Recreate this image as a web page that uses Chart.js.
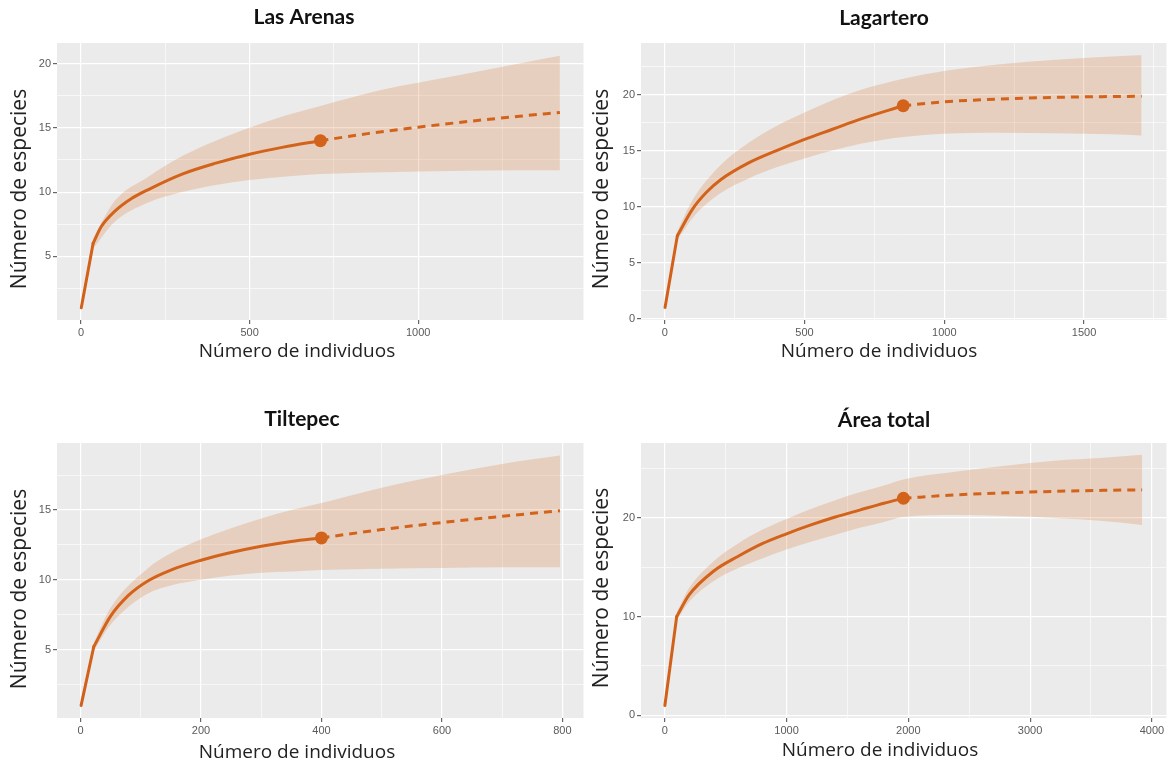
<!DOCTYPE html>
<html><head><meta charset="utf-8">
<script src="https://cdn.jsdelivr.net/npm/chart.js@4.4.1/dist/chart.umd.min.js"></script>
<style>
html,body{margin:0;padding:0;background:#fff;}
body{width:1173px;height:765px;position:relative;overflow:hidden;}
canvas{position:absolute;}
</style></head><body>
<canvas id="c1" width="590" height="380" style="left:0px;top:0px"></canvas>
<canvas id="c2" width="583" height="380" style="left:590px;top:0px"></canvas>
<canvas id="c3" width="590" height="385" style="left:0px;top:380px"></canvas>
<canvas id="c4" width="583" height="385" style="left:590px;top:380px"></canvas>
<script>
// ---------- Text ----------
const panelTitles = ["Las Arenas", "Lagartero", "Tiltepec", "Área total"];
const xAxisTitle = "Número de individuos";
const yAxisTitle = "Número de especies";

// ---------- Las Arenas ----------
const laObsX = [1, 36, 60, 100, 150, 200, 300, 400, 500, 600, 710];
const laObsY = [1, 6.0, 7.3, 8.5, 9.5, 10.2, 11.4, 12.25, 12.95, 13.5, 14.0];
const laExtX = [710, 850, 1000, 1150, 1300, 1420];
const laExtY = [14.0, 14.55, 15.05, 15.5, 15.9, 16.2];
const laCiX  = [1, 36, 100, 200, 300, 400, 500, 600, 710, 900, 1100, 1300, 1420];
const laCiLo = [1, 5.6, 7.7, 9.2, 10.0, 10.55, 10.95, 11.2, 11.4, 11.55, 11.65, 11.7, 11.7];
const laCiHi = [1, 6.4, 9.3, 11.2, 12.8, 14.0, 15.0, 15.9, 16.7, 18.0, 19.0, 20.0, 20.6];
const laXTicks = [0, 500, 1000];
const laYTicks = [5, 10, 15, 20];

// ---------- Lagartero ----------
const lgObsX = [1, 45, 100, 150, 200, 300, 400, 500, 600, 700, 853];
const lgObsY = [1, 7.4, 9.8, 11.3, 12.4, 13.9, 15.0, 16.0, 16.9, 17.8, 19.0];
const lgExtX = [853, 1000, 1200, 1400, 1600, 1706];
const lgExtY = [19.0, 19.35, 19.6, 19.75, 19.82, 19.85];
const lgCiX  = [1, 45, 100, 200, 300, 400, 500, 600, 700, 853, 1000, 1200, 1400, 1600, 1706];
const lgCiLo = [1, 7.0, 9.0, 11.2, 12.5, 13.5, 14.3, 15.0, 15.6, 16.2, 16.5, 16.6, 16.55, 16.45, 16.35];
const lgCiHi = [1, 7.8, 10.6, 13.7, 15.7, 17.2, 18.4, 19.5, 20.4, 21.4, 22.1, 22.7, 23.1, 23.4, 23.5];
const lgXTicks = [0, 500, 1000, 1500];
const lgYTicks = [0, 5, 10, 15, 20];

// ---------- Tiltepec ----------
const ttObsX = [1, 22, 50, 80, 111, 150, 200, 250, 300, 350, 400];
const ttObsY = [1, 5.2, 7.4, 8.9, 9.9, 10.7, 11.4, 11.95, 12.4, 12.75, 13.0];
const ttExtX = [400, 500, 600, 700, 796];
const ttExtY = [13.0, 13.6, 14.1, 14.55, 14.95];
const ttCiX  = [1, 22, 50, 111, 150, 200, 250, 300, 350, 400, 500, 600, 700, 796];
const ttCiLo = [1, 4.9, 6.8, 9.0, 9.6, 10.0, 10.3, 10.5, 10.6, 10.7, 10.8, 10.85, 10.9, 10.9];
const ttCiHi = [1, 5.5, 8.0, 10.8, 11.9, 12.9, 13.7, 14.4, 15.0, 15.5, 16.6, 17.5, 18.3, 18.9];
const ttXTicks = [0, 200, 400, 600, 800];
const ttYTicks = [5, 10, 15];

// ---------- Área total ----------
const atObsX = [1, 98, 200, 400, 600, 800, 1000, 1200, 1400, 1600, 1800, 1960];
const atObsY = [1, 10.0, 12.2, 14.6, 16.1, 17.4, 18.4, 19.3, 20.1, 20.8, 21.5, 22.0];
const atExtX = [1960, 2400, 2800, 3200, 3600, 3920];
const atExtY = [22.0, 22.35, 22.55, 22.7, 22.8, 22.85];
const atCiX  = [1, 98, 200, 400, 600, 800, 1000, 1200, 1400, 1600, 1800, 1960, 2400, 2800, 3200, 3600, 3920];
const atCiLo = [1, 9.6, 11.5, 13.6, 14.9, 15.9, 16.8, 17.6, 18.3, 19.0, 19.6, 20.1, 20.3, 20.2, 20.0, 19.7, 19.3];
const atCiHi = [1, 10.4, 12.9, 15.6, 17.4, 18.8, 19.9, 20.9, 21.8, 22.6, 23.3, 23.9, 24.7, 25.3, 25.8, 26.1, 26.4];
const atXTicks = [0, 1000, 2000, 3000, 4000];
const atYTicks = [0, 10, 20];

// ---------- Styling ----------
const LINE = '#D2601A';
const RIBBON = 'rgba(213,110,30,0.22)';
const PANEL_BG = '#EBEBEB';
const TICK_FONT = {family: "'Liberation Sans', Arial, sans-serif", size: 11};
const TICK_COLOR = '#5a5a5a';

const panelDecor = {
  id: 'panelDecor',
  beforeDraw(chart) {
    const {ctx, chartArea: a} = chart;
    ctx.save();
    ctx.fillStyle = PANEL_BG;
    ctx.fillRect(a.left, a.top, a.right - a.left, a.bottom - a.top);
    ctx.restore();
  },
  afterDraw(chart, args, o) {
    const ctx = chart.ctx;
    ctx.save();
    ctx.fillStyle = '#111';
    ctx.textAlign = 'center';
    ctx.textBaseline = 'middle';
    ctx.font = "bold 21px Lato, 'Open Sans', sans-serif";
    ctx.fillText(o.title, o.titlePos[0], o.titlePos[1]);
    ctx.fillStyle = '#222';
    ctx.font = "19px 'Open Sans', 'Noto Sans', sans-serif";
    ctx.fillText(o.xTitle, o.xTitlePos[0], o.xTitlePos[1]);
    ctx.translate(o.yTitlePos[0], o.yTitlePos[1]);
    ctx.rotate(-Math.PI / 2);
    ctx.font = "21px 'Open Sans', 'Noto Sans', sans-serif";
    ctx.fillText(o.yTitle, 0, 0);
    ctx.restore();
  }
};

function withMinor(major) {
  const step = major[1] - major[0];
  const out = [];
  const start = major[0] - step / 2;
  for (let v = start; v <= major[major.length - 1] + step / 2 + 1e-9; v += step / 2) out.push(+v.toFixed(6));
  return out;
}

function axis(min, max, major, fitFn) {
  const isMajor = v => major.some(m => Math.abs(m - v) < 1e-6);
  return {
    type: 'linear', min, max,
    afterBuildTicks: s => { s.ticks = withMinor(major).filter(v => v >= min && v <= max).map(v => ({value: v})); },
    afterFit: fitFn,
    ticks: {
      callback: v => isMajor(v) ? String(v) : '',
      font: TICK_FONT, color: TICK_COLOR, padding: 2, maxRotation: 0, autoSkip: false
    },
    grid: {
      color: '#ffffff',
      lineWidth: c => (c.tick && isMajor(c.tick.value)) ? 1.2 : 0.6,
      tickLength: 4,
      tickColor: c => (c.tick && isMajor(c.tick.value)) ? '#666' : 'rgba(0,0,0,0)'
    },
    border: {display: false}
  };
}

function makeChart(p) {
  const pts = (xs, ys) => xs.map((x, i) => ({x, y: ys[i]}));
  const head = a => a.slice(0, 2);   // first (straight) segment up to the first knot
  const tail = a => a.slice(1);      // smooth part from the first knot on
  const n = p.obsX.length - 1;
  const none = 'rgba(0,0,0,0)';
  new Chart(document.getElementById(p.id), {
    type: 'line',
    data: { datasets: [
      {data: pts(head(p.ciX), head(p.ciLo)), borderWidth: 0, borderColor: none, pointRadius: 0, fill: false, tension: 0},
      {data: pts(head(p.ciX), head(p.ciHi)), borderWidth: 0, borderColor: none, pointRadius: 0, fill: '-1', backgroundColor: RIBBON, tension: 0},
      {data: pts(tail(p.ciX), tail(p.ciLo)), borderWidth: 0, borderColor: none, pointRadius: 0, fill: false, cubicInterpolationMode: 'monotone'},
      {data: pts(tail(p.ciX), tail(p.ciHi)), borderWidth: 0, borderColor: none, pointRadius: 0, fill: '-1', backgroundColor: RIBBON, cubicInterpolationMode: 'monotone'},
      {data: pts(head(p.obsX), head(p.obsY)), borderColor: LINE, borderWidth: 3, pointRadius: 0, fill: false, tension: 0, borderCapStyle: 'round', borderJoinStyle: 'round'},
      {data: pts(tail(p.obsX), tail(p.obsY)), borderColor: LINE, borderWidth: 3, pointRadius: 0, fill: false, cubicInterpolationMode: 'monotone', borderCapStyle: 'round'},
      {data: pts(p.extX, p.extY), borderColor: LINE, borderWidth: 3, borderDash: [8, 6], pointRadius: 0, fill: false, cubicInterpolationMode: 'monotone'},
      {data: [{x: p.obsX[n], y: p.obsY[n]}], showLine: false, pointRadius: 6.5, pointBackgroundColor: LINE, pointBorderWidth: 0, borderColor: LINE}
    ]},
    options: {
      responsive: false, animation: false, events: [],
      layout: {padding: {left: 0, right: p.padR, top: p.padT, bottom: 0}},
      plugins: {
        legend: {display: false}, tooltip: {enabled: false},
        panelDecor: {title: p.title, titlePos: p.titlePos, xTitle: xAxisTitle, xTitlePos: p.xTitlePos, yTitle: yAxisTitle, yTitlePos: p.yTitlePos}
      },
      scales: {
        x: axis(p.xMin, p.xMax, p.xTicks, s => { s.height = p.bottomH; }),
        y: axis(p.yMin, p.yMax, p.yTicks, s => { s.width = p.leftW; })
      }
    },
    plugins: [panelDecor]
  });
}

makeChart({id: 'c1', title: panelTitles[0], obsX: laObsX, obsY: laObsY, extX: laExtX, extY: laExtY, ciX: laCiX, ciLo: laCiLo, ciHi: laCiHi,
  xTicks: laXTicks, yTicks: laYTicks, xMin: -71, xMax: 1490, yMin: 0.05, yMax: 21.6,
  leftW: 57, padR: 4, padT: 43, bottomH: 60,
  titlePos: [304, 17], xTitlePos: [297, 352], yTitlePos: [20, 189]});
makeChart({id: 'c2', title: panelTitles[1], obsX: lgObsX, obsY: lgObsY, extX: lgExtX, extY: lgExtY, ciX: lgCiX, ciLo: lgCiLo, ciHi: lgCiHi,
  xTicks: lgXTicks, yTicks: lgYTicks, xMin: -85, xMax: 1795, yMin: -0.125, yMax: 24.6,
  leftW: 51, padR: 4, padT: 43, bottomH: 60,
  titlePos: [294, 18], xTitlePos: [289, 352], yTitlePos: [12, 189]});
makeChart({id: 'c3', title: panelTitles[2], obsX: ttObsX, obsY: ttObsY, extX: ttExtX, extY: ttExtY, ciX: ttCiX, ciLo: ttCiLo, ciHi: ttCiHi,
  xTicks: ttXTicks, yTicks: ttYTicks, xMin: -39, xMax: 835, yMin: 0.1, yMax: 19.8,
  leftW: 57, padR: 4, padT: 63, bottomH: 47,
  titlePos: [302, 39], xTitlePos: [297, 373], yTitlePos: [20, 209]});
makeChart({id: 'c4', title: panelTitles[3], obsX: atObsX, obsY: atObsY, extX: atExtX, extY: atExtY, ciX: atCiX, ciLo: atCiLo, ciHi: atCiHi,
  xTicks: atXTicks, yTicks: atYTicks, xMin: -195, xMax: 4120, yMin: -0.27, yMax: 27.6,
  leftW: 51, padR: 4, padT: 63, bottomH: 47,
  titlePos: [294, 40], xTitlePos: [290, 371], yTitlePos: [12, 208]});
</script>
</body></html>
